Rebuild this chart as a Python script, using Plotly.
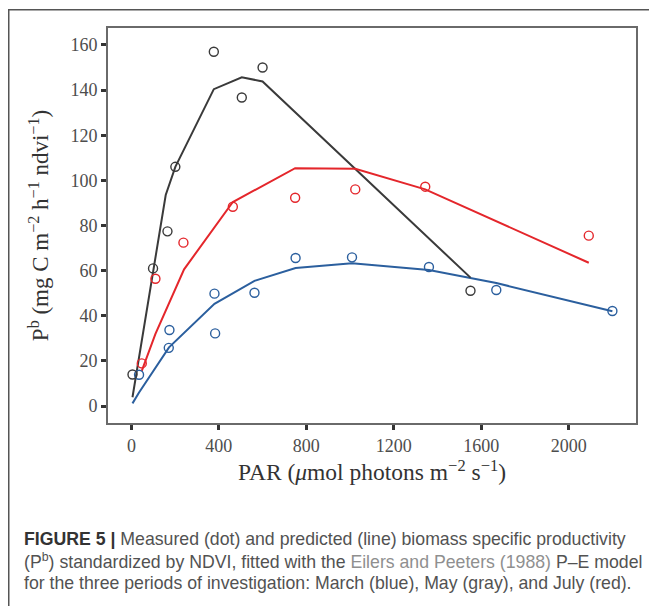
import plotly.graph_objects as go

# ---- data ----
march_obs_x = [35, 171, 174, 380, 383, 563, 751, 1009, 1361, 1669, 2200]
march_obs_y = [13.9, 25.8, 33.7, 49.8, 32.2, 50.2, 65.6, 65.9, 61.6, 51.4, 42.1]
march_fit_x = [5, 35, 172, 380, 563, 751, 1009, 1361, 1669, 2200]
march_fit_y = [1.2, 6, 26, 45.3, 55.5, 61.2, 63.3, 60.3, 54.5, 42.0]

may_obs_x = [5, 99, 165, 201, 377, 505, 600, 1551]
may_obs_y = [14, 61, 77.4, 106, 157, 136.7, 150, 51.1]
may_fit_x = [5, 99, 157, 201, 377, 505, 600, 1551]
may_fit_y = [3.9, 60, 93.5, 106, 140.4, 145.7, 143.8, 56.9]

july_obs_x = [47.5, 110, 238, 464, 749, 1024, 1344, 2092]
july_obs_y = [18.9, 56.4, 72.4, 88.3, 92.3, 96, 97.2, 75.5]
july_fit_x = [47.5, 110, 241, 464, 749, 1024, 1344, 2092]
july_fit_y = [15.6, 32, 60.6, 90.4, 105.4, 105.1, 96, 63.5]

x_ticks = [0, 400, 800, 1200, 1600, 2000]
y_ticks = [0, 20, 40, 60, 80, 100, 120, 140, 160]

x_title = "PAR (<i>μ</i>mol photons m<sup>−2</sup> s<sup>−1</sup>)"
y_title = "P<sup>b</sup> (mg C m<sup>−2</sup> h<sup>−1</sup> ndvi<sup>−1</sup>)"
caption_lines = [
    "<b><span style='color:#333333'>FIGURE 5 |</span></b> Measured (dot) and predicted (line) biomass specific productivity",
    "(P<sup>b</sup>) standardized by NDVI, fitted with the <span style='color:#8f8f8f'>Eilers and Peeters (1988)</span> P–E model",
    "for the three periods of investigation: March (blue), May (gray), and July (red).",
]

BLUE = "#2b5f9e"
GRAY = "#3a3a3a"
RED = "#e4262b"

fig = go.Figure()
for fx, fy, c in [(march_fit_x, march_fit_y, BLUE), (may_fit_x, may_fit_y, GRAY), (july_fit_x, july_fit_y, RED)]:
    fig.add_trace(go.Scatter(x=fx, y=fy, mode="lines", line=dict(color=c, width=2), showlegend=False))
for ox, oy, c in [(march_obs_x, march_obs_y, BLUE), (may_obs_x, may_obs_y, GRAY), (july_obs_x, july_obs_y, RED)]:
    fig.add_trace(go.Scatter(x=ox, y=oy, mode="markers",
                             marker=dict(symbol="circle-open", size=9, color=c, line=dict(width=1.4, color=c)),
                             showlegend=False))

# The page adds an 8px body margin, so the figure is sized and placed to compensate.
OFF = 8
W, H = 657 - OFF, 606 - OFF
L, R, T, B = 108 - OFF, 21, 28 - OFF, 183
pw, ph = W - L - R, H - T - B

def px(xp):  # page x -> paper x
    return (xp - OFF - L) / pw

def py(yp):  # page y -> paper y
    return (H - B - (yp - OFF)) / ph

serif = "Liberation Serif"
axis_common = dict(ticks="outside", ticklen=5, tickwidth=2.5, tickcolor="#333333", showgrid=False,
                   zeroline=False, showline=True, linecolor="#6a6a6a", linewidth=2, mirror=True,
                   tickfont=dict(family=serif, size=18, color="#4d4d4d"))
fig.update_layout(
    width=W, height=H,
    margin=dict(l=L, r=R, t=T, b=B, pad=0),
    paper_bgcolor="white", plot_bgcolor="white",
    font=dict(family=serif, color="#4d4d4d", size=18),
    xaxis=dict(range=[-107, 2308], tickvals=x_ticks, **axis_common,
               title=dict(text=x_title, font=dict(family=serif, size=23.5, color="#333333"), standoff=8)),
    yaxis=dict(range=[-7.5, 167.5], tickvals=y_ticks, **axis_common,
               title=dict(text=y_title, font=dict(family=serif, size=23, color="#333333"), standoff=15)),
)

# outer figure frame (left and top edges visible)
fig.add_shape(type="line", xref="paper", yref="paper", x0=px(8.75), x1=px(8.75), y0=py(640), y1=py(9),
              line=dict(color="#555555", width=1.5), layer="above")
fig.add_shape(type="line", xref="paper", yref="paper", x0=px(8), x1=px(700), y0=py(9.75), y1=py(9.75),
              line=dict(color="#555555", width=1.5), layer="above")

for i, line in enumerate(caption_lines):
    fig.add_annotation(text=line, xref="paper", yref="paper", x=px(22), y=py(539 + i * 22),
                       xanchor="left", yanchor="middle", showarrow=False,
                       font=dict(family="Liberation Sans", size=17.7, color="#525252"))

fig.write_html("out.html")
